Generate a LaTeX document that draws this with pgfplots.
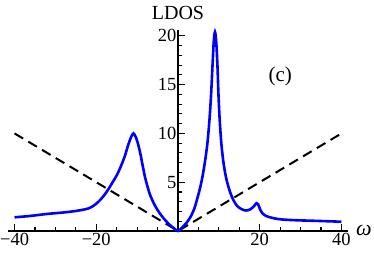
\documentclass[border=0pt]{standalone}
\usepackage{pgfplots}
\pgfplotsset{compat=1.18}
\usepackage{fontspec}
\setmainfont{Liberation Serif}
\begin{document}
\begin{tikzpicture}
\begin{axis}[
  at={(0,0)}, anchor=south west,
  scale only axis, width=340pt, height=201pt,
  xmin=-41.6, xmax=41.6, ymin=0, ymax=20.6,
  axis lines=middle,
  axis line style={-, line width=1.4pt},
  clip=false,
  xtick={-40,-20,20,40},
  xticklabels={−40,−20,20,40},
  minor xtick={-35,-30,-25,-15,-10,-5,5,10,15,25,30,35},
  ytick={5,10,15,20},
  yticklabels={5,10,15,20},
  minor ytick={1,2,3,4,6,7,8,9,11,12,13,14,16,17,18,19},
  xminorticks=true, yminorticks=true,
  tick align=inside,
  major tick length=7pt, minor tick length=4pt,
  major tick style={black, line width=1.2pt},
  minor tick style={black, line width=1.1pt},
  tick label style={font=\fontsize{18.5}{20}\selectfont},
  xticklabel style={yshift=1pt},
  yticklabel style={xshift=2pt},
]
\addplot[black, line width=2pt, dash pattern=on 10pt off 6pt] coordinates {(-40,10) (0,0) (40,10)};
\addplot[blue, line width=2.6pt, smooth, tension=0.5] coordinates {
(-40,1.4) (-36,1.55) (-32,1.75) (-28,1.9) (-25,2.05) (-23,2.2) (-22,2.3)
(-21,2.5) (-20,2.8) (-19,3.2) (-18,3.7) (-17,4.3) (-16,5.0) (-15,5.7)
(-14,6.6) (-13,7.7) (-12.2,8.8) (-11.5,9.6) (-10.9,10.0) (-10.3,9.6)
(-9.7,8.8) (-9.1,7.7) (-8.6,6.6) (-8.0,5.4) (-7,3.9) (-6,2.9) (-5,2.15)
(-4,1.55) (-3,1.05) (-2,0.62) (-1,0.28) (0,0)
(1,0.35) (2,0.8) (3,1.4) (4,2.3) (4.7,3.3) (5.4,4.4) (6.0,5.6) (6.6,7.1)
(7.2,9.0) (7.7,11.4) (8.1,14.0) (8.45,17.0) (8.75,19.4) (9.05,20.4)
(9.35,19.4) (9.65,17.0) (9.9,14.0) (10.2,11.4) (10.6,9.0) (11.1,7.1)
(11.7,5.6) (12.5,4.3) (13.4,3.3) (14.4,2.6) (15.5,2.25) (16.6,2.1) (17.6,2.2) (18.5,2.5)
(19.2,2.85) (19.6,2.75) (20.1,2.2) (20.8,1.75) (21.8,1.5) (23.5,1.3) (25.5,1.18)
(29,1.1) (33,1.05) (40,0.95)
};
\node[font=\fontsize{20}{22}\selectfont] at (axis cs:0,22.3) {LDOS};
\node[font=\fontsize{22}{24}\selectfont] at (axis cs:45.5,0.1) {\textit{ω}};
\node[font=\fontsize{21}{23}\selectfont] at (axis cs:25.0,15.8) {(c)};
\end{axis}
\pgfresetboundingbox
\useasboundingbox (-8pt,-22pt) rectangle (366pt,231pt);
\end{tikzpicture}
\end{document}
